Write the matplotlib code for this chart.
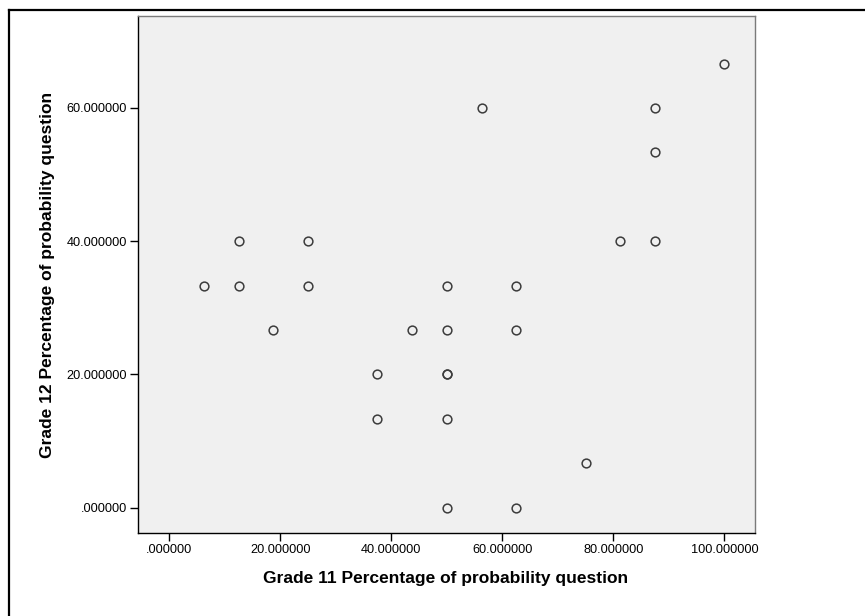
import matplotlib
matplotlib.use("Agg")
import matplotlib.pyplot as plt
from matplotlib.lines import Line2D
from matplotlib.ticker import FuncFormatter

plt.rcParams['font.family'] = ['Liberation Sans', 'DejaVu Sans']

grade11 = [6.25, 12.5, 12.5, 18.75, 25, 25, 37.5, 37.5, 43.75, 50, 50, 50, 50, 50, 50,
           56.25, 62.5, 62.5, 62.5, 75, 81.25, 87.5, 87.5, 87.5, 100]
grade12 = [33.3333, 40, 33.3333, 26.6667, 40, 33.3333, 20, 13.3333, 26.6667, 33.3333, 26.6667,
           20, 20, 13.3333, 0, 60, 33.3333, 26.6667, 0, 6.6667, 40, 40, 53.3333, 60, 66.6667]
xticks = [0, 20, 40, 60, 80, 100]
yticks = [0, 20, 40, 60]
xlabel = "Grade 11 Percentage of probability question"
ylabel = "Grade 12 Percentage of probability question"

W, H = 865, 616
fig = plt.figure(figsize=(W/100, H/100), dpi=100)
ax = fig.add_axes([138/W, 1-533/H, 617/W, 517/H])
ax.set_facecolor('#F0F0F0')

ax.plot(grade11, grade12, linestyle='none', marker='o', ms=6.3, mfc='none',
        mec='#3c3c3c', mew=1.1)

ax.set_xlim(-5.64, 105.5)
ax.set_ylim(-3.8, 73.8)
ax.set_xticks(xticks)
ax.set_yticks(yticks)
fmt = FuncFormatter(lambda v, p: ("%.6f" % v).lstrip('0') if abs(v) < 1 else "%.6f" % v)
ax.xaxis.set_major_formatter(fmt)
ax.yaxis.set_major_formatter(fmt)
ax.tick_params(direction='out', length=6, width=1.0, colors='black', labelsize=9.2, pad=2)
ax.tick_params(axis='x', pad=2)

for s in ['left', 'bottom']:
    ax.spines[s].set_color('black')
    ax.spines[s].set_linewidth(1.0)
for s in ['top', 'right']:
    ax.spines[s].set_color('#7a7a7a')
    ax.spines[s].set_linewidth(1.0)

fig.text(446/W, 1-578/H, xlabel, ha='center', va='center', fontsize=12.5, fontweight='bold')
fig.text(48/W, 1-275/H, ylabel, ha='center', va='center', rotation=90, fontsize=12.5, fontweight='bold')

# outer frame (left and top edges)
fig.add_artist(Line2D([9/W, 9/W], [0, 1-10/H], color='black', lw=1.6, transform=fig.transFigure))
fig.add_artist(Line2D([9/W, 1], [1-10/H, 1-10/H], color='black', lw=1.6, transform=fig.transFigure))

fig.savefig('out.png', dpi=100)
